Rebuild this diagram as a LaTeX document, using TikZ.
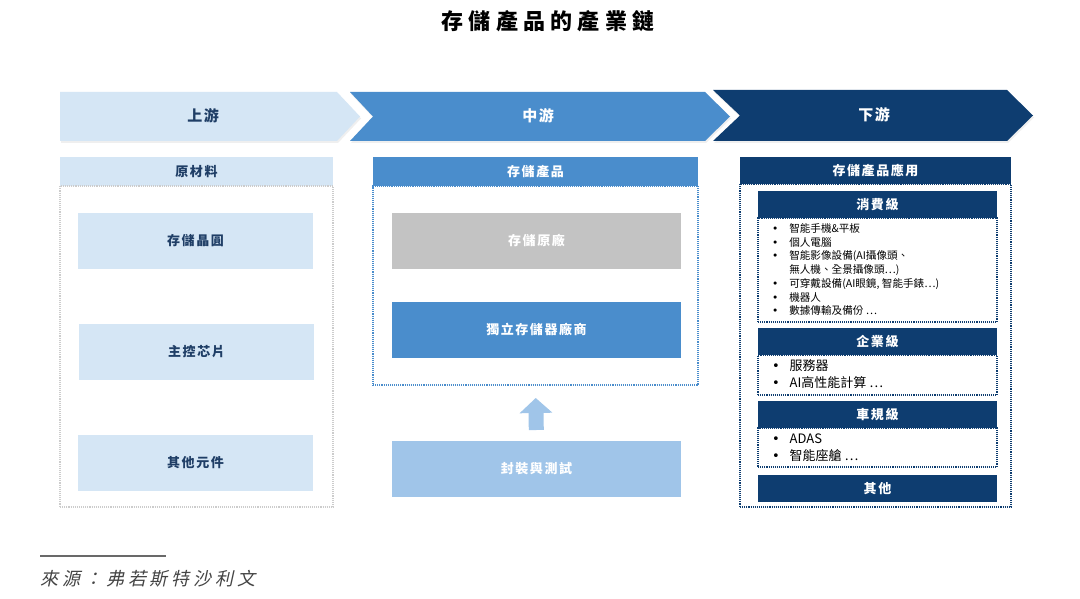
\documentclass[tikz,border=0pt]{standalone}
\usepackage{fontspec}
\setmainfont{Noto Sans CJK TC}
\newfontfamily\srcfont{Noto Sans CJK TC}[FakeSlant=0.22,LetterSpace=22]
\newfontfamily\bulfont{DejaVu Sans}
\newcommand\bulmark{{\bulfont\char"2022}}
\usetikzlibrary{arrows.meta,shadows}
\definecolor{lblue}{HTML}{D5E6F5}
\definecolor{mblue}{HTML}{4A8DCC}
\definecolor{dnavy}{HTML}{0E3D70}
\definecolor{gbox}{HTML}{C3C3C3}
\definecolor{ablue}{HTML}{A0C5E9}
\definecolor{ltext}{HTML}{1F3E66}
\definecolor{gdot}{HTML}{CCCCCC}
\definecolor{srcgray}{HTML}{444444}
\tikzset{
  rect/.style={inner sep=0pt, outer sep=0pt, anchor=north west},
  boxfont/.style={font=\fontsize{13}{13}\selectfont\bfseries\addfontfeature{LetterSpace=12}},
  lbox/.style={rect, fill=lblue, text=ltext, boxfont},
  mbox/.style={rect, fill=mblue, text=white, boxfont},
  gboxs/.style={rect, fill=gbox, text=white, boxfont},
  abox/.style={rect, fill=ablue, text=white, boxfont},
  nbox/.style={rect, fill=dnavy, text=white, boxfont},
  dotframe/.style={rect, draw=#1, line width=1.1pt, densely dotted},
  bantext/.style={font=\fontsize{15}{15}\selectfont\bfseries\addfontfeature{LetterSpace=10}},
  banshadow/.style={drop shadow={shadow xshift=1pt, shadow yshift=-2pt, opacity=0.12}},
  bulletsmall/.style={rect, text=black, font=\fontsize{10.6}{13.7}\selectfont, align=left},
  bulletbig/.style={rect, text=black, font=\fontsize{13}{16.5}\selectfont, align=left},
}
\begin{document}
\begin{tikzpicture}[x=1pt,y=-1pt]
\useasboundingbox (0,0) rectangle (1080,599);
\fill[white] (0,0) rectangle (1080,599);

% title
\node[font=\fontsize{22}{22}\selectfont\bfseries\addfontfeature{LetterSpace=24}] (title) at (548,21) {存儲產品的產業鏈};

% banners
\fill[lblue, banshadow] (60,92) -- (337,92) -- (360,116.5) -- (337,141) -- (60,141) -- cycle;
\fill[mblue, banshadow] (350,92) -- (705,92) -- (730,116.5) -- (705,141) -- (350,141) -- (373,116.5) -- cycle;
\fill[dnavy, banshadow] (713,90) -- (1007,90) -- (1033,115.5) -- (1007,141) -- (713,141) -- (740,115.5) -- cycle;
\node[bantext, text=ltext] (up) at (203,116) {上游};
\node[bantext, text=white] (mid) at (538,116) {中游};
\node[bantext, text=white] (down) at (874,115) {下游};

% left column
\node[lbox, minimum width=273pt, minimum height=29pt] (lh) at (60,157) {原材料};
\node[dotframe=gdot, minimum width=273pt, minimum height=321pt] (lf) at (60,186) {};
\node[lbox, minimum width=235pt, minimum height=56pt] (l1) at (78,213) {存儲晶圓};
\node[lbox, minimum width=235pt, minimum height=56pt] (l2) at (79,324) {主控芯片};
\node[lbox, minimum width=235pt, minimum height=56pt] (l3) at (78,435) {其他元件};

% middle column
\node[mbox, minimum width=325pt, minimum height=29pt] (mh) at (373,157) {存儲產品};
\node[dotframe=mblue, minimum width=325pt, minimum height=199pt] (mf) at (373,186) {};
\node[gboxs, minimum width=289pt, minimum height=56pt] (m1) at (392,213) {存儲原廠};
\node[mbox, minimum width=289pt, minimum height=56pt] (m2) at (392,302) {獨立存儲器廠商};
\node[abox, minimum width=289pt, minimum height=56pt] (m3) at (392,441) {封裝與測試};
\draw[ablue, line width=15pt, -{Triangle[width=32pt,length=15pt]}, shorten <=11pt, shorten >=13pt] (m3.north) -- (mf.south);

% right column
\node[nbox, minimum width=271pt, minimum height=27pt] (rh) at (740,157) {存儲產品應用};
\node[dotframe=dnavy, minimum width=271pt, minimum height=323pt] (rf) at (740,184) {};

\node[nbox, minimum width=239pt, minimum height=27pt] (c1h) at (758,191) {消費級};
\node[dotframe=dnavy, minimum width=239pt, minimum height=104pt] (c1f) at (758,218) {};
\node[bulletsmall] (c1t) at (772,223) {\begin{tabular}{@{}l@{\hspace{11pt}}l@{}}
\bulmark & 智能手機\&平板\\
\bulmark & 個人電腦\\
\bulmark & 智能影像設備(AI攝像頭、\\
  & 無人機、全景攝像頭…)\\
\bulmark & 可穿戴設備(AI眼鏡, 智能手錶…)\\
\bulmark & 機器人\\
\bulmark & 數據傳輸及備份 …
\end{tabular}};

\node[nbox, minimum width=239pt, minimum height=27pt] (c2h) at (758,328) {企業級};
\node[dotframe=dnavy, minimum width=239pt, minimum height=40pt] (c2f) at (758,355) {};
\node[bulletbig] (c2t) at (772,359) {\begin{tabular}{@{}l@{\hspace{10pt}}l@{}}
\bulmark & 服務器\\
\bulmark & AI高性能計算 …
\end{tabular}};

\node[nbox, minimum width=239pt, minimum height=27pt] (c3h) at (758,401) {車規級};
\node[dotframe=dnavy, minimum width=239pt, minimum height=39pt] (c3f) at (758,428) {};
\node[bulletbig] (c3t) at (772,432) {\begin{tabular}{@{}l@{\hspace{10pt}}l@{}}
\bulmark & ADAS\\
\bulmark & 智能座艙 …
\end{tabular}};

\node[nbox, minimum width=239pt, minimum height=27pt] (c4h) at (758,475) {其他};

% source
\coordinate (sl) at (40,556);
\coordinate (sr) at (166,556);
\draw[srcgray!80, line width=1.3pt] (sl) -- (sr);
\node[anchor=west, inner sep=0pt, text=srcgray, font=\fontsize{18}{18}\srcfont] (src) at (40,579) {來源：弗若斯特沙利文};
\end{tikzpicture}
\end{document}
